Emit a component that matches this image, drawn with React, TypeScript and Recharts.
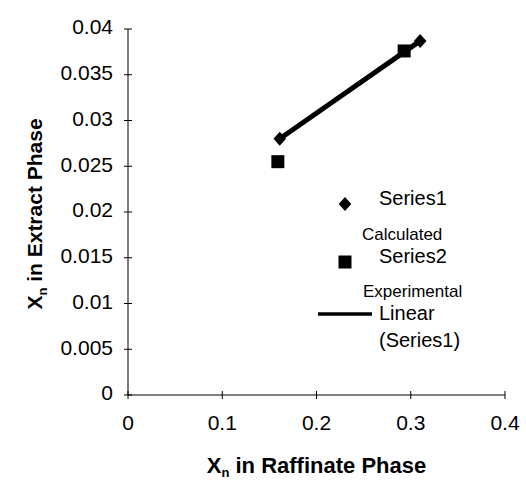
import { Label, Legend, Scatter, ScatterChart, XAxis, YAxis } from 'recharts';

const FONT = '"Liberation Sans", Arial, sans-serif';

// Calculated (Series1) and experimental (Series2) points
const series1X = [0.161, 0.31];
const series1Y = [0.028, 0.0387];
const series2X = [0.159, 0.293];
const series2Y = [0.0255, 0.0376];

const xTicks = [0, 0.1, 0.2, 0.3, 0.4];
const yTicks = [0, 0.005, 0.01, 0.015, 0.02, 0.025, 0.03, 0.035, 0.04];

const legendNames = ['Series1', 'Series2', 'Linear'];
const legendNotes = ['Calculated', 'Experimental', '(Series1)'];

const series1 = series1X.map((x, i) => ({ x, y: series1Y[i] }));
const series2 = series2X.map((x, i) => ({ x, y: series2Y[i] }));

function linearFit(xs: number[], ys: number[]) {
  const n = xs.length;
  const mx = xs.reduce((a, b) => a + b, 0) / n;
  const my = ys.reduce((a, b) => a + b, 0) / n;
  let sxy = 0;
  let sxx = 0;
  xs.forEach((x, i) => {
    sxy += (x - mx) * (ys[i] - my);
    sxx += (x - mx) * (x - mx);
  });
  const slope = sxy / sxx;
  const icpt = my - slope * mx;
  return [Math.min(...xs), Math.max(...xs)].map((x) => ({ x, y: icpt + slope * x }));
}

const trend = linearFit(series1X, series1Y);

const TICK_SIZE = 4;
const Y_MARGIN = 11;
const X_MARGIN = 16;

function YTick(props: any) {
  const { x, y, payload } = props;
  const axisX = x + TICK_SIZE + Y_MARGIN;
  return (
    <g>
      <line x1={axisX - 4} x2={axisX + 4} y1={y} y2={y} stroke="#000" />
      <text x={x} y={y - 2} dy="0.35em" textAnchor="end" fontSize={21} fontFamily={FONT} fill="#000">
        {String(payload.value)}
      </text>
    </g>
  );
}

function XTick(props: any) {
  const { x, y, payload } = props;
  const axisY = y - TICK_SIZE - X_MARGIN;
  return (
    <g>
      <line x1={x} x2={x} y1={axisY - 4} y2={axisY + 4} stroke="#000" />
      <text x={x} y={y} dy="0.72em" textAnchor="middle" fontSize={21} fontFamily={FONT} fill="#000">
        {String(payload.value)}
      </text>
    </g>
  );
}

function Diamond(props: any) {
  const { cx, cy } = props;
  const r = 7;
  return (
    <polygon
      points={`${cx},${cy - r} ${cx + r * 0.9},${cy} ${cx},${cy + r} ${cx - r * 0.9},${cy}`}
      fill="#000"
    />
  );
}

function Square(props: any) {
  const { cx, cy } = props;
  return <rect x={cx - 6.5} y={cy - 6.5} width={13} height={13} fill="#000" />;
}

function XTitle(props: any) {
  const { x, y, width } = props.viewBox;
  return (
    <text x={x + width / 2} y={y + 78} textAnchor="middle" fontSize={22} fontWeight="bold" fontFamily={FONT} fill="#000">
      <tspan>X</tspan>
      <tspan fontSize={13} dy={4}>n</tspan>
      <tspan dy={-4}> in Raffinate Phase</tspan>
    </text>
  );
}

function YTitle(props: any) {
  const { y, height } = props.viewBox;
  const cx = 42;
  const cy = y + height / 2 + 2;
  return (
    <text
      x={cx}
      y={cy}
      transform={`rotate(-90 ${cx} ${cy})`}
      textAnchor="middle"
      fontSize={21}
      fontWeight="bold"
      fontFamily={FONT}
      fill="#000"
    >
      <tspan>X</tspan>
      <tspan fontSize={13} dy={5}>n</tspan>
      <tspan dy={-5}> in Extract Phase</tspan>
    </text>
  );
}

function LegendBox() {
  const txt = { fontFamily: FONT, fill: '#000' };
  return (
    <svg width={200} height={180} style={{ overflow: 'visible' }}>
      <Diamond cx={45} cy={24} />
      <text x={79} y={25} fontSize={20} {...txt}>{legendNames[0]}</text>
      <text x={62} y={60} fontSize={17} {...txt}>{legendNotes[0]}</text>
      <Square cx={45} cy={82} />
      <text x={79} y={83} fontSize={20} {...txt}>{legendNames[1]}</text>
      <text x={63} y={117} fontSize={17} {...txt}>{legendNotes[1]}</text>
      <line x1={18} x2={72} y1={134} y2={134} stroke="#000" strokeWidth={3.5} />
      <text x={79} y={140} fontSize={20} {...txt}>{legendNames[2]}</text>
      <text x={79} y={167} fontSize={20} {...txt}>{legendNotes[2]}</text>
    </svg>
  );
}

export default function App() {
  return (
    <div style={{ position: 'absolute', left: 0, top: 0, width: 526, height: 480, background: '#fff' }}>
      <ScatterChart width={526} height={480} margin={{ top: 29, right: 21, bottom: 0, left: 0 }}>
        <XAxis
          type="number"
          dataKey="x"
          domain={[0, 0.4]}
          ticks={xTicks}
          height={85}
          tickSize={TICK_SIZE}
          tickMargin={X_MARGIN}
          tickLine={false}
          tick={<XTick />}
          axisLine={{ stroke: '#000' }}
        >
          <Label content={<XTitle />} />
        </XAxis>
        <YAxis
          type="number"
          dataKey="y"
          domain={[0, 0.04]}
          ticks={yTicks}
          width={128}
          tickSize={TICK_SIZE}
          tickMargin={Y_MARGIN}
          tickLine={false}
          tick={<YTick />}
          axisLine={{ stroke: '#000' }}
        >
          <Label content={<YTitle />} />
        </YAxis>
        <Legend
          layout="vertical"
          align="center"
          verticalAlign="middle"
          content={<LegendBox />}
          wrapperStyle={{ left: 300, top: 180, width: 200, height: 180 }}
        />
        <Scatter
          name="Linear (Series1)"
          data={trend}
          line={{ stroke: '#000', strokeWidth: 5 }}
          shape={() => <g />}
          isAnimationActive={false}
        />
        <Scatter name="Series1" data={series1} shape={<Diamond />} isAnimationActive={false} />
        <Scatter name="Series2" data={series2} shape={<Square />} isAnimationActive={false} />
      </ScatterChart>
    </div>
  );
}
